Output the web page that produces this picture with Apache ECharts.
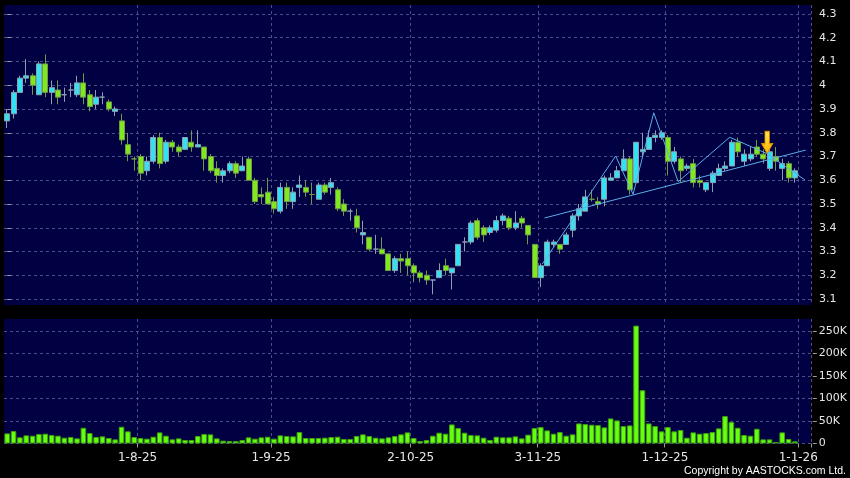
<!DOCTYPE html>
<html><head><meta charset="utf-8">
<script src="https://cdn.jsdelivr.net/npm/echarts@6/dist/echarts.min.js"></script>
<style>html,body{margin:0;padding:0;background:#000;}#c{width:850px;height:478px;}</style>
</head><body><div id="c"></div>
<script>
// trading days shown on the category axis
const tradingDays = {
  '2025-07': [3,4,7,8,9,10,11,14,15,16,17,18,21,22,23,24,25,28,29,30,31],
  '2025-08': [1,4,5,6,7,8,11,12,13,14,15,18,19,20,21,22,25,26,27,28,29],
  '2025-09': [1,2,3,4,5,8,9,10,11,12,15,16,17,18,19,22,23,24,25,26,29,30],
  '2025-10': [2,3,6,8,9,10,13,14,15,16,17,20,21,22,23,24,27,28,30,31],
  '2025-11': [3,4,5,6,7,10,11,12,13,14,17,18,19,20,21,24,25,26,27,28],
  '2025-12': [1,2,3,4,5,8,9,10,11,12,15,16,17,18,19,22,23,24,29,30,31]
};
const extraCategories = ['2026-01-01', '2026-01-02'];
const xTickLabels = {
  '2025-08-01': '1-8-25', '2025-09-01': '1-9-25', '2025-10-02': '2-10-25',
  '2025-11-03': '3-11-25', '2025-12-01': '1-12-25', '2026-01-01': '1-1-26'
};
const opens = [3.85,3.88,3.97,4.03,4.04,3.96,4.09,3.97,3.98,3.96,3.98,3.96,4.01,3.96,3.92,3.95,3.93,3.89,3.85,3.75,
3.69,3.70,3.64,3.68,3.78,3.68,3.76,3.74,3.73,3.76,3.74,3.74,3.70,3.65,3.62,3.64,3.67,3.64,3.69,3.60,
3.54,3.55,3.51,3.47,3.57,3.51,3.57,3.57,3.54,3.52,3.58,3.57,3.56,3.50,3.47,3.45,3.37,3.36,3.31,3.31,
3.29,3.22,3.27,3.27,3.24,3.21,3.20,3.18,3.19,3.24,3.21,3.24,3.34,3.34,3.43,3.40,3.38,3.39,3.43,3.44,
3.40,3.44,3.41,3.33,3.19,3.24,3.33,3.33,3.33,3.39,3.45,3.47,3.52,3.51,3.52,3.60,3.61,3.64,3.69,3.59,
3.72,3.73,3.78,3.78,3.78,3.68,3.69,3.65,3.67,3.60,3.56,3.59,3.62,3.65,3.66,3.76,3.68,3.69,3.74,3.71,
3.65,3.70,3.65,3.67,3.61];
const closes = [3.88,3.97,4.03,4.04,4.00,4.09,3.97,3.99,3.95,3.96,3.98,4.01,3.95,3.91,3.95,3.95,3.90,3.90,3.77,3.71,
3.69,3.63,3.68,3.78,3.67,3.76,3.74,3.72,3.78,3.74,3.75,3.69,3.64,3.62,3.64,3.67,3.63,3.66,3.60,3.51,
3.53,3.50,3.48,3.57,3.51,3.55,3.58,3.55,3.54,3.58,3.55,3.59,3.48,3.47,3.47,3.40,3.38,3.31,3.31,3.29,
3.22,3.27,3.26,3.24,3.21,3.19,3.18,3.18,3.22,3.22,3.23,3.33,3.34,3.42,3.36,3.37,3.40,3.43,3.45,3.40,
3.42,3.42,3.37,3.19,3.24,3.34,3.34,3.31,3.37,3.45,3.48,3.53,3.52,3.50,3.61,3.61,3.64,3.69,3.56,3.76,
3.73,3.78,3.79,3.80,3.68,3.72,3.64,3.66,3.59,3.59,3.59,3.63,3.65,3.66,3.76,3.72,3.71,3.71,3.71,3.69,
3.72,3.68,3.67,3.61,3.64];
const lows = [3.82,3.86,3.97,4.01,3.96,3.96,3.95,3.92,3.92,3.93,3.95,3.95,3.92,3.89,3.90,3.92,3.89,3.87,3.75,3.68,
3.64,3.60,3.62,3.67,3.65,3.67,3.72,3.70,3.73,3.72,3.74,3.64,3.63,3.59,3.59,3.63,3.61,3.64,3.60,3.50,
3.50,3.50,3.46,3.46,3.48,3.48,3.53,3.53,3.50,3.52,3.54,3.54,3.47,3.45,3.43,3.38,3.33,3.30,3.29,3.29,
3.22,3.21,3.21,3.20,3.17,3.17,3.16,3.12,3.19,3.20,3.14,3.24,3.30,3.33,3.35,3.34,3.37,3.38,3.41,3.39,
3.39,3.40,3.33,3.19,3.15,3.24,3.32,3.29,3.33,3.36,3.43,3.47,3.51,3.48,3.49,3.60,3.61,3.64,3.54,3.59,
3.70,3.73,3.76,3.77,3.62,3.67,3.59,3.64,3.57,3.57,3.55,3.55,3.62,3.64,3.66,3.70,3.66,3.68,3.70,3.67,
3.64,3.64,3.60,3.59,3.59];
const highs = [3.90,3.98,4.04,4.11,4.05,4.10,4.13,4.02,4.02,3.99,4.01,4.04,4.05,3.98,3.98,3.97,3.94,3.91,3.88,3.80,
3.70,3.71,3.70,3.79,3.80,3.77,3.77,3.75,3.78,3.81,3.81,3.74,3.71,3.68,3.65,3.68,3.68,3.70,3.70,3.61,
3.57,3.61,3.53,3.59,3.59,3.57,3.62,3.60,3.59,3.59,3.59,3.61,3.57,3.52,3.48,3.48,3.43,3.36,3.37,3.36,
3.29,3.28,3.29,3.30,3.25,3.22,3.22,3.18,3.25,3.27,3.23,3.33,3.36,3.43,3.44,3.41,3.41,3.45,3.46,3.45,
3.47,3.45,3.41,3.33,3.25,3.35,3.35,3.33,3.38,3.46,3.50,3.56,3.56,3.53,3.62,3.63,3.66,3.73,3.70,3.76,
3.80,3.81,3.81,3.81,3.79,3.74,3.70,3.67,3.69,3.62,3.59,3.64,3.67,3.68,3.77,3.78,3.73,3.74,3.77,3.73,
3.74,3.74,3.69,3.68,3.65];
const volumes = [22500,27700,13700,18100,17300,21000,21800,18800,17300,12900,14400,11400,35000,23200,14400,15900,12200,9200,37200,27000,
14400,12200,10700,15100,24700,17300,9200,11400,7800,7800,16600,21000,20300,11400,6300,5600,5600,7800,13700,10700,
13700,15100,10700,18100,16600,15900,25400,12200,12200,12200,12900,14400,15100,10000,10000,16600,20300,16600,12900,11400,
13700,16600,20300,24700,12200,5600,7800,17300,24000,21800,42400,34300,24000,18800,18100,12900,7800,15100,13700,13700,
15900,11400,19600,34300,36500,29100,21800,25400,17300,20300,44600,43200,41700,41000,35800,55700,51300,38700,40200,262000,
118400,44600,38700,27000,36500,27000,29900,12900,24700,21800,23200,25400,33600,60900,47600,35000,18800,17300,32800,9200,
9200,3300,24700,10000,4800];
const priceTicks = [3.1,3.2,3.3,3.4,3.5,3.6,3.7,3.8,3.9,4.0,4.1,4.2,4.3];
const volumeTicks = [0,50000,100000,150000,200000,250000];
// drawn study lines, in [category position, price]
const trendLine = [[84.57,3.441],[125.66,3.727]];
const zigzagLine = [[84.2,3.247],[95.76,3.702],[98.5,3.541],[101.75,3.884],[105.6,3.594],[113.7,3.781],[119.5,3.713],[125.55,3.601]];
const arrowPoint = [[119.6,3.713]];

const categories = [];
Object.keys(tradingDays).forEach(m => tradingDays[m].forEach(d => categories.push(m + '-' + String(d).padStart(2,'0'))));
extraCategories.forEach(c => categories.push(c));
const isMonthStart = (i, v) => xTickLabels[categories[i]] !== undefined;

const NAVY = '#000042', GRID = '#4b4f86', TXT = '#e6e6e6', TICK = '#9a9a9a';
const chart = echarts.init(document.getElementById('c'), null, {renderer:'canvas'});
chart.setOption({
  animation: false,
  backgroundColor: '#000',
  grid: [
    {left: 4, right: 39, top: 5, height: 300, show: true, backgroundColor: NAVY, borderWidth: 0},
    {left: 4, right: 39, top: 319, height: 124.5, show: true, backgroundColor: NAVY, borderWidth: 0}
  ],
  xAxis: [
    {type:'category', gridIndex:0, data: categories, boundaryGap:true,
     axisLine:{show:false}, axisTick:{show:false}, axisLabel:{show:false},
     splitLine:{show:true, interval: isMonthStart, lineStyle:{color:GRID, type:[3,3], width:1}}},
    {type:'category', gridIndex:1, data: categories, boundaryGap:true, offset:3,
     axisLine:{show:false},
     axisTick:{show:true, interval: isMonthStart, length:4, lineStyle:{color:TICK}},
     axisLabel:{show:true, interval: isMonthStart, formatter: v => xTickLabels[v] || '',
       color:TXT, fontSize:12, fontFamily:'DejaVu Sans', margin:5, padding:[0,6,0,0]},
     splitLine:{show:true, interval: isMonthStart, lineStyle:{color:GRID, type:[3,3], width:1}}},
    {type:'value', gridIndex:0, min:-0.5, max:categories.length-0.5, show:false}
  ],
  yAxis: [
    {type:'value', gridIndex:0, position:'right', offset:2, min:3.1-6/237.5, max:4.3+9/237.5, scale:true,
     axisLine:{show:false},
     axisTick:{show:true, length:4, customValues: priceTicks, lineStyle:{color:TICK}},
     axisLabel:{show:true, customValues: priceTicks, formatter: v => String(Number(v.toFixed(1))),
       color:TXT, fontSize:11, fontFamily:'DejaVu Sans', margin:6},
     splitLine:{show:true, lineStyle:{color:GRID, type:[3,3], width:1}}},
    {type:'value', gridIndex:1, position:'right', offset:2, min:0, max:250000*124.5/112.5,
     axisLine:{show:false},
     axisTick:{show:true, length:4, customValues: volumeTicks, lineStyle:{color:TICK}},
     axisLabel:{show:true, customValues: volumeTicks, formatter: v => v === 0 ? '0' : (v/1000) + 'K',
       color:TXT, fontSize:11, fontFamily:'DejaVu Sans', margin:6},
     splitLine:{show:true, lineStyle:{color:GRID, type:[3,3], width:1}}}
  ],
  series: [
    {type:'candlestick', xAxisIndex:0, yAxisIndex:0, barWidth:5.5,
     data: opens.map((o,i) => [o, closes[i], lows[i], highs[i]]),
     itemStyle:{color:'#33e2f2', color0:'#7fe81f', borderColor:'#8aa0b0', borderColor0:'#6f9a4a', borderWidth:1}},
    {type:'bar', xAxisIndex:1, yAxisIndex:1, barWidth:5.6, data: volumes,
     itemStyle:{color:'#66ff11', borderColor:'#3f9f0c', borderWidth:1}},
    {type:'line', xAxisIndex:2, yAxisIndex:0, data: trendLine, symbol:'none', silent:true,
     lineStyle:{color:'#5aaee8', width:1}},
    {type:'line', xAxisIndex:2, yAxisIndex:0, data: zigzagLine, symbol:'none', silent:true,
     lineStyle:{color:'#5aaee8', width:1}},
    {type:'scatter', xAxisIndex:2, yAxisIndex:0, data: arrowPoint,
     symbol:'path://M3,0 L7,0 L7,9 L10,9 L5,16 L0,9 L3,9 Z', symbolSize:[11,22], symbolOffset:[0,'-50%'],
     itemStyle:{color:new echarts.graphic.LinearGradient(0,0,0,1,[{offset:0,color:'#ffe84a'},{offset:1,color:'#ffb300'}]),
       borderColor:'#e08a00', borderWidth:1, opacity:1}}
  ],
  graphic: [
    {type:'text', right:4, top:466, style:{text:'Copyright by AASTOCKS.com Ltd.', fill:'#ffffff', font:'10.5px "Liberation Sans"'}}
  ]
});
</script></body></html>
